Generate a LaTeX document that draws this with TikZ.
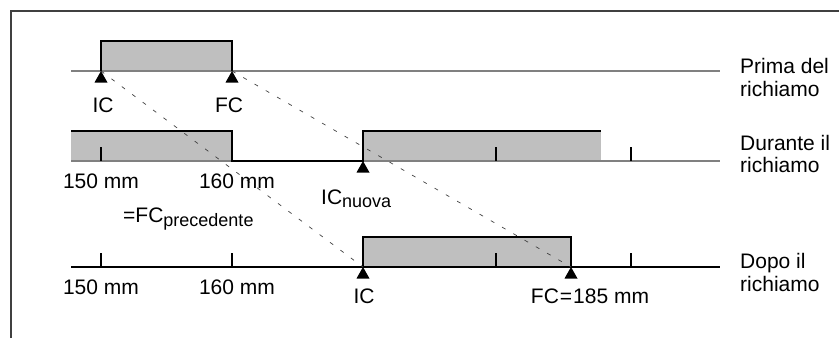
\documentclass[tikz,border=0pt]{standalone}
\usepackage{fontspec}
\setmainfont{Liberation Sans}
\begin{document}
\begin{tikzpicture}[x=1pt,y=-1pt,
  lbl/.style={inner sep=0pt,font=\fontsize{21}{24}\selectfont},
  boxfill/.style={fill=black!25},
  outline/.style={draw=black,line width=1.5pt,line join=miter},
  greyline/.style={draw=black!50,line width=1.5pt},
  blackline/.style={draw=black,line width=1.3pt},
  tickmark/.style={draw=black,line width=1.3pt},
  guide/.style={draw=black!75,line width=0.7pt,dash pattern=on 4pt off 9pt},
  frameline/.style={draw=black!75,line width=1.3pt},
]
\useasboundingbox (0,0) rectangle (839,338);
\def\tri(#1){\fill[black] (#1) -- ++(-6.5,11.5) -- ++(13,0) -- cycle;}

% frame
\coordinate (fbl) at (11,338);
\coordinate (ftl) at (11,11);
\coordinate (ftr) at (839,11);
\draw[frameline] (fbl) -- (ftl) -- (ftr);

% key coordinates
\coordinate (icA) at (101,71);
\coordinate (fcA) at (232,71);
\coordinate (icB) at (363,161);
\coordinate (icC) at (363,267);
\coordinate (fcC) at (571,267);

% ---- Row 1: Prima del richiamo
\fill[boxfill] (101,41) rectangle (232,71);
\draw[greyline] (71,71) -- (720,71);
\draw[outline] (101,71) -- (101,41) -- (232,41) -- (232,71);

% ---- Row 2: Durante il richiamo
\fill[boxfill] (71,131) rectangle (232,161);
\fill[boxfill] (363,131) rectangle (601,161);
\draw[greyline] (71,161) -- (720,161);
\draw[outline] (71,131) -- (232,131) -- (232,161) -- (363,161) -- (363,131) -- (601,131);
\foreach \x in {101,496,631} \draw[tickmark] (\x,147) -- (\x,161);

% ---- Row 3: Dopo il richiamo
\fill[boxfill] (363,237) rectangle (571,267);
\draw[blackline] (71,267) -- (720,267);
\draw[outline] (363,267) -- (363,237) -- (571,237) -- (571,267);
\foreach \x in {101,232,496,631} \draw[tickmark] (\x,253) -- (\x,267);

% dashed guides
\draw[guide] (icA) -- (icC);
\draw[guide] (fcA) -- (fcC);

% triangles
\tri(icA) \tri(fcA) \tri(icB) \tri(icC) \tri(fcC)

% labels row 1
\node[lbl,anchor=base] (tIC1) at (103,112) {IC};
\node[lbl,anchor=base] (tFC1) at (229,112) {FC};
% labels row 2
\node[lbl,anchor=base] (t150b) at (101,188) {150 mm};
\node[lbl,anchor=base] (t160b) at (237,188) {160 mm};
\node[lbl,anchor=base west] (tICn) at (321,204) {IC\raisebox{-3.5pt}{\fontsize{18}{20}\selectfont nuova}};
\node[lbl,anchor=base west] (tFCp) at (123,222) {=FC\raisebox{-4pt}{\fontsize{18}{20}\selectfont precedente}};
% labels row 3
\node[lbl,anchor=base] (t150c) at (101,294) {150 mm};
\node[lbl,anchor=base] (t160c) at (237,294) {160 mm};
\node[lbl,anchor=base] (tIC3) at (364,303) {IC};
\node[lbl,anchor=base] (tFC3) at (590,303) {FC\kern1pt=\kern1pt185 mm};

% right labels
\node[lbl,anchor=base west] (r1a) at (740,73) {Prima del};
\node[lbl,anchor=base west] (r1b) at (740,96) {richiamo};
\node[lbl,anchor=base west] (r2a) at (740,150) {Durante il};
\node[lbl,anchor=base west] (r2b) at (740,172) {richiamo};
\node[lbl,anchor=base west] (r3a) at (740,268) {Dopo il};
\node[lbl,anchor=base west] (r3b) at (740,291) {richiamo};
\end{tikzpicture}
\end{document}
